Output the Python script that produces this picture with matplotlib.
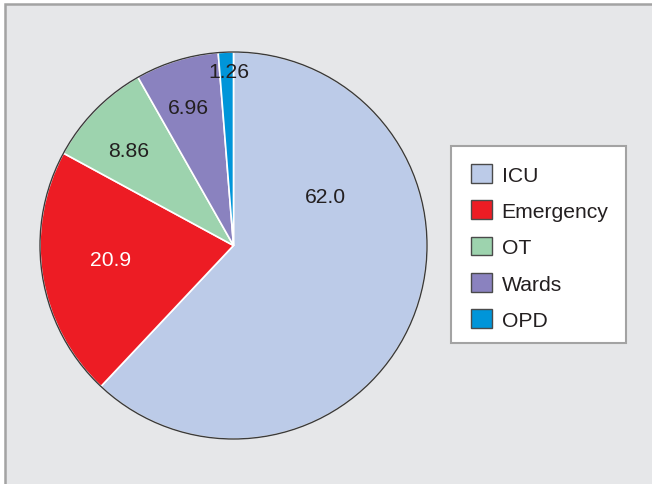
import matplotlib
matplotlib.use("Agg")
import matplotlib.pyplot as plt
from matplotlib.patches import Rectangle, Circle, Patch
import numpy as np

categories = ["ICU", "Emergency", "OT", "Wards", "OPD"]
values = [62.0, 20.9, 8.86, 6.96, 1.26]
value_labels = ["62.0", "20.9", "8.86", "6.96", "1.26"]
colors = ["#bccbe8", "#ed1c24", "#9dd3ae", "#8a82bf", "#0095d9"]
label_colors = ["#231f20", "white", "#231f20", "#231f20", "#231f20"]
# label placement (radius fraction, angle in degrees)
label_pos = [(0.54, 28.0), (0.64, 186.5), (0.73, 138.0), (0.75, 108.0), (0.90, 91.6)]

W, H = 652, 485
fig = plt.figure(figsize=(W / 100, H / 100), dpi=100)
fig.patch.set_facecolor("white")

# frame / background
bg = Rectangle((5 / W, -0.1), 1.2, 1 - 5 / H + 0.1, transform=fig.transFigure,
               facecolor="#e6e7e9", edgecolor="#a3a3a3", linewidth=1.8, zorder=-1)
fig.patches.append(bg)

cx, cy, R = 233.5, 246.5, 193.5
ax = fig.add_axes([(cx - R) / W, (H - cy - R) / H, 2 * R / W, 2 * R / H])

wedges, _ = ax.pie(values, colors=colors, startangle=90, counterclock=False,
                   radius=1.0, wedgeprops=dict(edgecolor="white", linewidth=1.2))
for w in wedges:
    w.set_clip_on(False)
ax.add_patch(Circle((0, 0), 1.0, facecolor="none", edgecolor="#3a3a3a",
                    linewidth=1.0, zorder=5, clip_on=False))
ax.set_xlim(-1, 1)
ax.set_ylim(-1, 1)
ax.set_aspect("equal")
ax.axis("off")

for lab, col, (r, a) in zip(value_labels, label_colors, label_pos):
    t = np.deg2rad(a)
    ax.text(r * np.cos(t), r * np.sin(t), lab, ha="center", va="center",
            fontsize=15.2, color=col, family="Liberation Sans", zorder=6)

# legend box
box = Rectangle((451 / W, 1 - 344 / H), 175 / W, 197 / H, transform=fig.transFigure,
                facecolor="white", edgecolor="#a3a3a3", linewidth=1.5, zorder=1)
fig.patches.append(box)

handles = [Patch(facecolor=c, edgecolor="#4a4a4a", linewidth=1.0) for c in colors]
leg = fig.legend(handles, categories, loc="upper left",
                 bbox_to_anchor=(471 / W, 1 - 165 / H),
                 frameon=False,
                 prop={"family": "Liberation Sans", "size": 15.2},
                 handlelength=1.0, handleheight=1.0, handletextpad=0.45,
                 labelspacing=0.74, borderpad=0.0, borderaxespad=0.0)
leg.set_zorder(2)
for t in leg.get_texts():
    t.set_color("#231f20")

fig.savefig("out.png", dpi=100)
